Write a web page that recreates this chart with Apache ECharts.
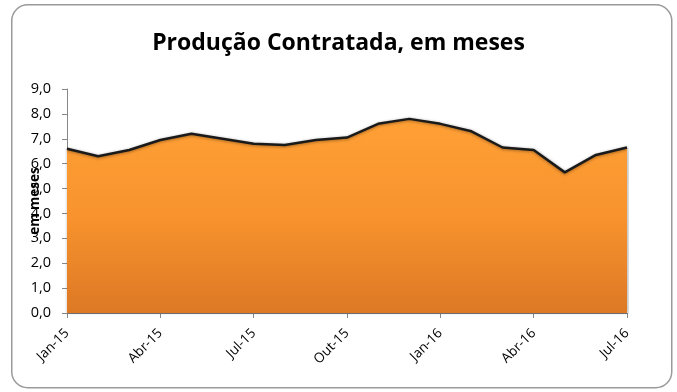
<!DOCTYPE html>
<html>
<head>
<meta charset="utf-8">
<script src="https://cdn.jsdelivr.net/npm/echarts@6/dist/echarts.min.js"></script>
<style>html,body{margin:0;padding:0;background:#fff}#c{width:677px;height:392px}</style>
</head>
<body>
<div id="c"></div>
<script>
var categories = ['Jan-15','Fev-15','Mar-15','Abr-15','Mai-15','Jun-15','Jul-15','Ago-15','Set-15','Out-15','Nov-15','Dez-15','Jan-16','Fev-16','Mar-16','Abr-16','Mai-16','Jun-16','Jul-16'];
var values = [6.6, 6.3, 6.55, 6.95, 7.2, 7.0, 6.8, 6.75, 6.95, 7.05, 7.6, 7.8, 7.6, 7.3, 6.65, 6.55, 5.65, 6.35, 6.65];
var yTicks = { min: 0, max: 9, interval: 1 };
var titleText = 'Produção Contratada, em meses';
var yName = 'em meses';

var chart = echarts.init(document.getElementById('c'));
chart.setOption({
  animation: false,
  graphic: [{
    type: 'rect', left: 11, top: 4, z: -1,
    shape: { width: 660, height: 383, r: 16 },
    style: { fill: '#fff', stroke: '#9a9a9a', lineWidth: 1.5 }
  }],
  title: {
    text: titleText, left: 'center', top: 27,
    textStyle: { fontFamily: 'Open Sans', fontWeight: 'bold', fontSize: 23, color: '#000' }
  },
  grid: { left: 67, right: 50, top: 89, bottom: 79 },
  xAxis: {
    type: 'category', data: categories, boundaryGap: false,
    axisLine: { lineStyle: { color: '#888', width: 1 } },
    axisTick: { show: true, interval: 2, length: 5, lineStyle: { color: '#888' } },
    axisLabel: { interval: 2, rotate: 45, fontFamily: 'Open Sans', fontSize: 13.5, color: '#000', margin: 18 },
    splitLine: { show: false }
  },
  yAxis: {
    type: 'value', min: yTicks.min, max: yTicks.max, interval: yTicks.interval,
    name: yName, nameLocation: 'middle', nameGap: 25, nameRotate: 90, nameMoveOverlap: false,
    nameTextStyle: { fontFamily: 'Open Sans', fontWeight: 'bold', fontSize: 13.5, color: '#000' },
    axisLine: { show: true, lineStyle: { color: '#888', width: 1 } },
    axisTick: { show: true, length: 5, lineStyle: { color: '#888' } },
    axisLabel: {
      fontFamily: 'Open Sans', fontSize: 14.5, color: '#000', margin: 16,
      formatter: function (v) { return v.toFixed(1).replace('.', ','); }
    },
    splitLine: { show: false }
  },
  series: [{
    type: 'line', data: values, symbol: 'none', smooth: false,
    lineStyle: { color: '#1a1a1a', width: 2.5, shadowColor: 'rgba(0,0,0,0.35)', shadowBlur: 3, shadowOffsetY: 1 },
    areaStyle: {
      opacity: 1,
      color: new echarts.graphic.LinearGradient(0, 0, 0, 1, [
        { offset: 0, color: '#FFA035' },
        { offset: 0.5, color: '#F8932E' },
        { offset: 1, color: '#DD7825' }
      ]),
      shadowColor: 'rgba(0,0,0,0.35)', shadowBlur: 4, shadowOffsetX: 1, shadowOffsetY: 1
    }
  }]
});
</script>
</body>
</html>
